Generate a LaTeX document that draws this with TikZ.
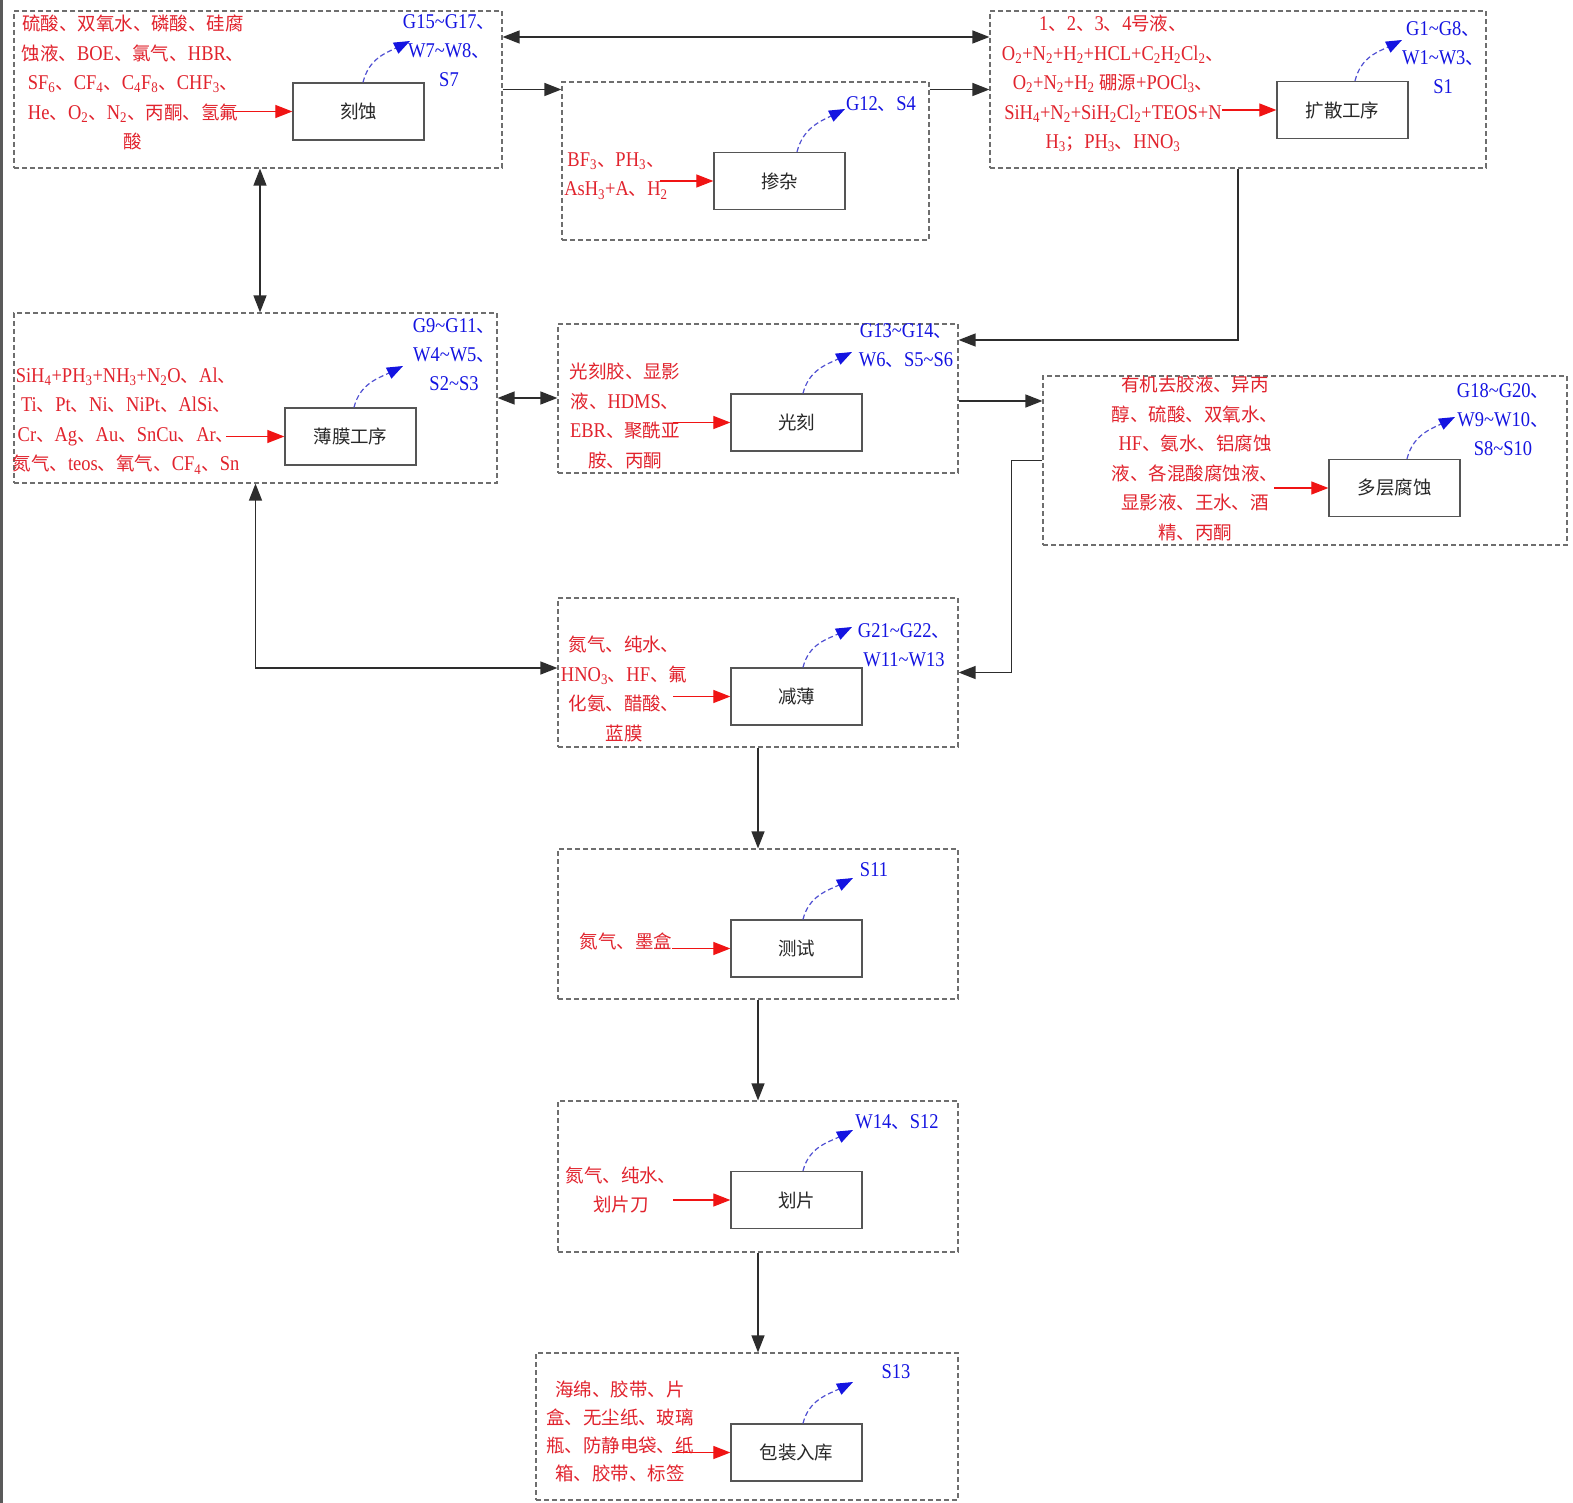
\documentclass[tikz,border=0pt]{standalone}
\usepackage{fontspec}
\setmainfont[FakeStretch=0.88]{Liberation Serif}
\newfontfamily\cjk[Scale=0.88]{Noto Sans CJK SC}
\usetikzlibrary{arrows.meta,calc}
\newcommand\zh[1]{{\cjk #1}}
\newcommand\sbs[1]{\textsubscript{#1}}
\newcommand\tld{\textasciitilde}
\definecolor{redc}{RGB}{225,35,45}
\definecolor{redl}{RGB}{240,20,20}
\definecolor{bluec}{RGB}{20,20,225}
\definecolor{bluel}{RGB}{80,80,210}
\definecolor{grpc}{RGB}{110,110,110}
\definecolor{boxc}{RGB}{85,85,85}
\definecolor{connc}{RGB}{45,45,45}
\definecolor{txtc}{RGB}{40,40,40}
\definecolor{edgec}{RGB}{90,90,90}
\tikzset{
  grp/.style={draw=grpc, line width=1.2pt, dash pattern=on 5pt off 3pt, inner sep=0pt},
  proc/.style={draw=boxc, line width=1.3pt, fill=white, minimum width=131pt, minimum height=57pt, inner sep=0pt, text=txtc, font=\fontsize{21}{22}\selectfont},
  redtxt/.style={text=redc, align=center, inner sep=0pt, font=\fontsize{21}{29.5}\selectfont},
  bluetxt/.style={text=bluec, align=center, inner sep=0pt, font=\fontsize{21}{29}\selectfont},
  conn/.style={draw=connc, line width=1.3pt},
  redarr/.style={draw=redl, line width=1.2pt, -{Triangle[length=17pt,width=13pt]}},
  bluearr/.style={draw=bluel, line width=1.2pt, dash pattern=on 5pt off 3pt, -{Triangle[length=16pt,width=12pt,color=bluec,fill=bluec]}}
}
\begin{document}
\begin{tikzpicture}[x=1pt,y=-1pt,>={Triangle[length=17pt,width=13pt]}]
\useasboundingbox (0,0) rectangle (1573,1503);
\fill[white] (0,0) rectangle (1573,1503);
\draw[edgec, line width=2.5pt] (1.5,0) -- (1.5,1503);

% group boxes
\node[grp, minimum width=488pt, minimum height=157pt] (g1) at (258,89.5) {};
\node[grp, minimum width=367pt, minimum height=158pt] (g2) at (745.5,161) {};
\node[grp, minimum width=496pt, minimum height=157pt] (g3) at (1238,89.5) {};
\node[grp, minimum width=483pt, minimum height=170pt] (g4) at (255.5,398) {};
\node[grp, minimum width=400pt, minimum height=149pt] (g5) at (758,398.5) {};
\node[grp, minimum width=524pt, minimum height=169pt] (g6) at (1305,460.5) {};
\node[grp, minimum width=400pt, minimum height=149pt] (g7) at (758,672.5) {};
\node[grp, minimum width=400pt, minimum height=150pt] (g8) at (758,924) {};
\node[grp, minimum width=400pt, minimum height=151pt] (g9) at (758,1176.5) {};
\node[grp, minimum width=422pt, minimum height=147pt] (g10) at (747,1426.5) {};

% process boxes
\node[proc] (p1) at (358.5,111.5) {\zh{刻蚀}};
\node[proc] (p2) at (779.5,181) {\zh{掺杂}};
\node[proc] (p3) at (1342.5,110) {\zh{扩散工序}};
\node[proc] (p4) at (350.5,436.5) {\zh{薄膜工序}};
\node[proc] (p5) at (796.5,422.5) {\zh{光刻}};
\node[proc] (p6) at (1394.5,488) {\zh{多层腐蚀}};
\node[proc] (p7) at (796.5,696.5) {\zh{减薄}};
\node[proc] (p8) at (796.5,948.5) {\zh{测试}};
\node[proc] (p9) at (796.5,1200) {\zh{划片}};
\node[proc] (p10) at (796.5,1452.5) {\zh{包装入库}};

% red input texts
\node[redtxt] (r1) at (133,82.5) {\zh{硫酸、双氧水、磷酸、硅腐}\\
\zh{蚀液、}BOE\zh{、氯气、}HBR\zh{、}\\
SF\sbs{6}\zh{、}CF\sbs{4}\zh{、}C\sbs{4}F\sbs{8}\zh{、}CHF\sbs{3}\zh{、}\\
He\zh{、}O\sbs{2}\zh{、}N\sbs{2}\zh{、丙酮、氢氟}\\
\zh{酸}};
\node[redtxt] (r2) at (616,176) {BF\sbs{3}\zh{、}PH\sbs{3}\zh{、}\\ AsH\sbs{3}+A\zh{、}H\sbs{2}};
\node[redtxt] (r3) at (1113,83.6) {1\zh{、}2\zh{、}3\zh{、}4\zh{号液、}\\
O\sbs{2}+N\sbs{2}+H\sbs{2}+HCL+C\sbs{2}H\sbs{2}Cl\sbs{2}\zh{、}\\
O\sbs{2}+N\sbs{2}+H\sbs{2} \zh{硼源}+POCl\sbs{3}\zh{、}\\
SiH\sbs{4}+N\sbs{2}+SiH\sbs{2}Cl\sbs{2}+TEOS+N\\
H\sbs{3}\zh{；}PH\sbs{3}\zh{、}HNO\sbs{3}};
\node[redtxt] (r4) at (126,421) {SiH\sbs{4}+PH\sbs{3}+NH\sbs{3}+N\sbs{2}O\zh{、}Al\zh{、}\\
Ti\zh{、}Pt\zh{、}Ni\zh{、}NiPt\zh{、}AlSi\zh{、}\\
Cr\zh{、}Ag\zh{、}Au\zh{、}SnCu\zh{、}Ar\zh{、}\\
\zh{氮气、}teos\zh{、氧气、}CF\sbs{4}\zh{、}Sn};
\node[redtxt] (r5) at (625,415.75) {\zh{光刻胶、显影}\\ \zh{液、}HDMS\zh{、}\\ EBR\zh{、聚酰亚}\\ \zh{胺、丙酮}};
\node[redtxt] (r6) at (1195,458.5) {\zh{有机去胶液、异丙}\\ \zh{醇、硫酸、双氧水、}\\ HF\zh{、氨水、铝腐蚀}\\ \zh{液、各混酸腐蚀液、}\\ \zh{显影液、王水、酒}\\ \zh{精、丙酮}};
\node[redtxt] (r7) at (624,688.75) {\zh{氮气、纯水、}\\ HNO\sbs{3}\zh{、}HF\zh{、氟}\\ \zh{化氨、醋酸、}\\ \zh{蓝膜}};
\node[redtxt] (r8) at (626,941) {\zh{氮气、墨盒}};
\node[redtxt] (r9) at (621,1190) {\zh{氮气、纯水、}\\ \zh{划片刀}};
\node[redtxt, font=\fontsize{21}{28}\selectfont] (r10) at (620,1431) {\zh{海绵、胶带、片}\\ \zh{盒、无尘纸、玻璃}\\ \zh{瓶、防静电袋、纸}\\ \zh{箱、胶带、标签}};

% blue output texts
\node[bluetxt] (t1) at (449,51) {G15\tld G17\zh{、}\\ W7\tld W8\zh{、}\\ S7};
\node[bluetxt] (t2) at (881,104) {G12\zh{、}S4};
\node[bluetxt] (t3) at (1443,57.5) {G1\tld G8\zh{、}\\ W1\tld W3\zh{、}\\ S1};
\node[bluetxt] (t4) at (454,355) {G9\tld G11\zh{、}\\ W4\tld W5\zh{、}\\ S2\tld S3};
\node[bluetxt] (t5) at (906,346) {G13\tld G14\zh{、}\\ W6\zh{、}S5\tld S6};
\node[bluetxt] (t6) at (1503,419.5) {G18\tld G20\zh{、}\\ W9\tld W10\zh{、}\\ S8\tld S10};
\node[bluetxt] (t7) at (904,645) {G21\tld G22\zh{、}\\ W11\tld W13};
\node[bluetxt] (t8) at (874,870) {S11};
\node[bluetxt] (t9) at (897,1122) {W14\zh{、}S12};
\node[bluetxt] (t10) at (896,1372) {S13};

% red input arrows
\coordinate (ra1) at (233,111.5);
\coordinate (ra2) at (660,181);
\coordinate (ra3) at (1222,110);
\coordinate (ra4) at (226,436.5);
\coordinate (ra5) at (673,422.5);
\coordinate (ra6) at (1274,488);
\coordinate (ra7) at (673,696.5);
\coordinate (ra8) at (672,948.5);
\coordinate (ra9) at (673,1200);
\coordinate (ra10) at (672,1452.5);
\draw[redarr] (ra1) -- (p1.west);
\draw[redarr] (ra2) -- (p2.west);
\draw[redarr] (ra3) -- (p3.west);
\draw[redarr] (ra4) -- (p4.west);
\draw[redarr] (ra5) -- (p5.west);
\draw[redarr] (ra6) -- (p6.west);
\draw[redarr] (ra7) -- (p7.west);
\draw[redarr] (ra8) -- (p8.west);
\draw[redarr] (ra9) -- (p9.west);
\draw[redarr] (ra10) -- (p10.west);

% blue output arrows
\coordinate (b1) at (410,41);
\coordinate (b2) at (845,109);
\coordinate (b3) at (1402,40);
\coordinate (b4) at (403,366);
\coordinate (b5) at (852,352);
\coordinate (b6) at (1455,417);
\coordinate (b7) at (852,627);
\coordinate (b8) at (853,878);
\coordinate (b9) at (853,1130);
\coordinate (b10) at (853,1382);
\draw[bluearr] ([xshift=4.5pt]p1.north) .. controls +(6,-24) and +(-24,12) .. (b1);
\draw[bluearr] ([xshift=17.5pt]p2.north) .. controls +(6,-24) and +(-24,12) .. (b2);
\draw[bluearr] ([xshift=12.5pt]p3.north) .. controls +(6,-24) and +(-24,12) .. (b3);
\draw[bluearr] ([xshift=3.5pt]p4.north) .. controls +(6,-24) and +(-24,12) .. (b4);
\draw[bluearr] ([xshift=6.5pt]p5.north) .. controls +(6,-24) and +(-24,12) .. (b5);
\draw[bluearr] ([xshift=12.5pt]p6.north) .. controls +(6,-24) and +(-24,12) .. (b6);
\draw[bluearr] ([xshift=6.5pt]p7.north) .. controls +(6,-24) and +(-24,12) .. (b7);
\draw[bluearr] ([xshift=6.5pt]p8.north) .. controls +(6,-24) and +(-24,12) .. (b8);
\draw[bluearr] ([xshift=6.5pt]p9.north) .. controls +(6,-24) and +(-24,12) .. (b9);
\draw[bluearr] ([xshift=6.5pt]p10.north) .. controls +(6,-24) and +(-24,12) .. (b10);

% connectors between groups
\draw[conn,<->] ([yshift=52.5pt]g1.east) -- ([yshift=52.5pt]g1.east -| g3.west);
\draw[conn,->] (g1.east) -- (g1.east -| g2.west);
\draw[conn,->] (g3.west -| g2.east) -- (g3.west);
\draw[conn,<->] ([xshift=2pt]g1.south) -- ([xshift=2pt]g1.south |- g4.north);
\draw[conn,->] (g3.south) |- ([yshift=58.5pt]g5.east);
\draw[conn,<->] (g4.east) -- (g4.east -| g5.west);
\draw[conn,->] ([yshift=-2.5pt]g5.east) -- ([yshift=-2.5pt]g5.east -| g6.west);
\draw[conn,->] (g6.west) -- ++(-31,0) |- (g7.east);
\draw[conn,<->] (g4.south) |- ([yshift=4.5pt]g7.west);
\draw[conn,->] (g7.south) -- (g8.north);
\draw[conn,->] (g8.south) -- (g9.north);
\draw[conn,->] (g9.south) -- (g9.south |- g10.north);
\end{tikzpicture}
\end{document}
